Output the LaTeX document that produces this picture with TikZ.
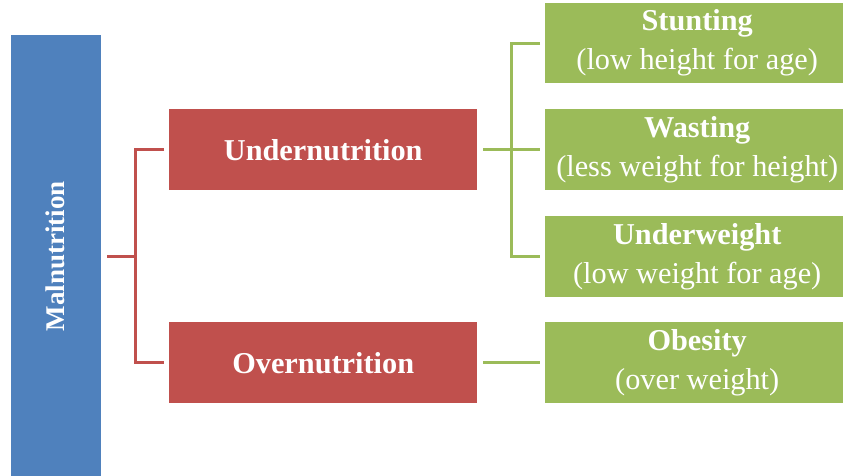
\documentclass[tikz,border=0pt]{standalone}
\usepackage{fontspec}
\setmainfont{Liberation Serif}
\definecolor{mblue}{HTML}{4F81BD}
\definecolor{mred}{HTML}{C0504D}
\definecolor{mgreen}{HTML}{9BBB59}
\begin{document}
\begin{tikzpicture}[x=1pt,y=-1pt,
  box/.style={inner sep=0pt, text=white, align=center, anchor=north west},
  bbox/.style={box, fill=mblue},
  rbox/.style={box, fill=mred, minimum width=308pt, minimum height=81pt, font=\fontsize{30.3}{34}\selectfont\bfseries},
  gbox/.style={box, fill=mgreen, minimum width=304pt, font=\fontsize{30.3}{39}\selectfont},
  rline/.style={draw=mred, line width=3pt},
  gline/.style={draw=mgreen, line width=3pt}]
\useasboundingbox (0,0) rectangle (843,476);
\fill[white] (0,0) rectangle (843,476);
% blue
\node[bbox, minimum width=90pt, minimum height=460pt] (mal) at (11,35) {};
\node[rotate=90, text=white, font=\fontsize{27}{30}\selectfont\bfseries] (malt) at (55,256) {Malnutrition};
% red
\node[rbox] (under) at (169,109) {Undernutrition};
\node[rbox] (over) at (169,322) {Overnutrition};
% green
\node[gbox, minimum height=80pt] (stunt) at (545,3) {\textbf{Stunting}\\(low height for age)};
\node[gbox, minimum height=81pt] (wast) at (545,109) {\textbf{Wasting}\\(less weight for height)};
\node[gbox, minimum height=81pt] (uw) at (545,216) {\textbf{Underweight}\\(low weight for age)};
\node[gbox, minimum height=81pt] (ob) at (545,322) {\textbf{Obesity}\\(over weight)};
% red bracket
\coordinate (rj) at (135,256);
\draw[rline] (107,256) -- (rj);
\draw[rline] ([xshift=-5pt]under.west) -| (rj) |- ([xshift=-5pt]over.west);
% green bracket
\coordinate (gj) at (511,149.5);
\draw[gline] ([xshift=6pt]under.east) -- ([xshift=-5pt]wast.west);
\draw[gline] ([xshift=-5pt]stunt.west) -| (gj) |- ([xshift=-5pt]uw.west);
\draw[gline] ([xshift=6pt]over.east) -- ([xshift=-5pt]ob.west);
\end{tikzpicture}
\end{document}
